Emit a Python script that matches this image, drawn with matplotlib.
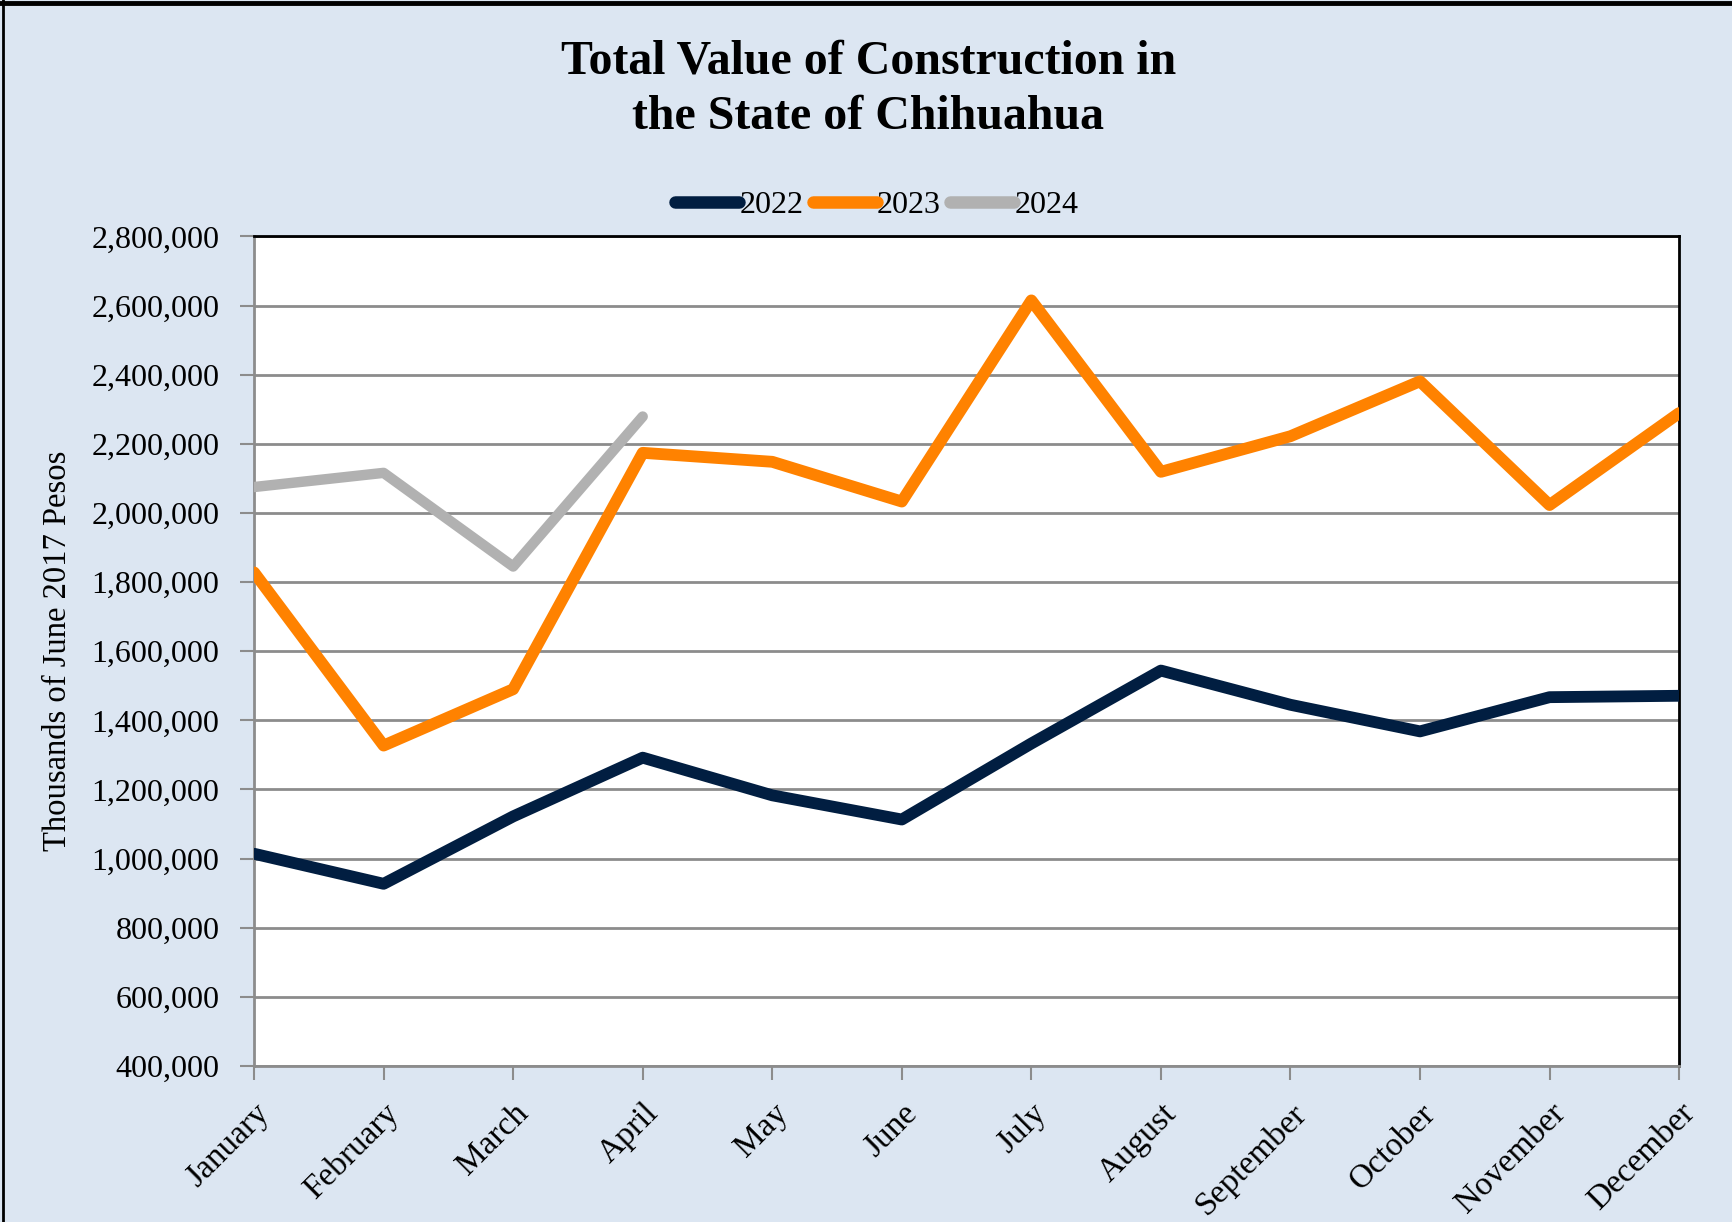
import matplotlib.pyplot as plt
from matplotlib.lines import Line2D
from matplotlib.ticker import FuncFormatter

months = ["January", "February", "March", "April", "May", "June", "July",
          "August", "September", "October", "November", "December"]

# thousands of June 2017 pesos
val_2022 = [1014000, 927000, 1122000, 1292000, 1183000, 1113000, 1333000,
            1544000, 1445000, 1368000, 1467000, 1471000]
val_2023 = [1828000, 1327000, 1490000, 2174000, 2148000, 2033000, 2615000,
            2119000, 2222000, 2381000, 2023000, 2289000]
val_2024 = [2075000, 2116000, 1845000, 2279000]

c22 = "#011E41"
c23 = "#FF8200"
c24 = "#B1B1B1"
bg = "#DCE6F2"

plt.rcParams['font.family'] = ['Liberation Serif', 'DejaVu Serif']

fig = plt.figure(figsize=(17.33, 12.22), dpi=100)
fig.patch.set_facecolor(bg)
ax = fig.add_axes([0.1466, 0.1277, 0.8223, 0.6788])
ax.set_facecolor("white")

x = range(len(months))
ax.plot(x, val_2022, color=c22, lw=8.5, solid_capstyle='round', solid_joinstyle='round', zorder=3)
ax.plot(x, val_2023, color=c23, lw=8.5, solid_capstyle='round', solid_joinstyle='round', zorder=3)
ax.plot(range(len(val_2024)), val_2024, color=c24, lw=7.5, solid_capstyle='round', solid_joinstyle='round', zorder=3)

ax.set_xlim(0, 11)
ax.set_ylim(400000, 2800000)
ax.set_yticks(range(400000, 2800001, 200000))
ax.yaxis.set_major_formatter(FuncFormatter(lambda v, p: f"{int(v):,}"))
ax.grid(axis='y', color='#8C8C8C', lw=2, zorder=1)
ax.set_axisbelow(True)

ax.set_xticks(list(x))
ax.set_xticklabels(months, rotation=45, ha='right', va='top', rotation_mode='anchor')
ax.tick_params(axis='x', length=10, width=1.5, color='#8C8C8C', labelsize=24, pad=13)
ax.tick_params(axis='y', length=10, width=1.5, color='#8C8C8C', labelsize=23, pad=15)

for s in ['left', 'bottom']:
    ax.spines[s].set_color('#8C8C8C')
    ax.spines[s].set_linewidth(2)
for s in ['top', 'right']:
    ax.spines[s].set_color('black')
    ax.spines[s].set_linewidth(2)

ax.set_ylabel("Thousands of June 2017 Pesos", fontsize=23.5, labelpad=13)

fig.text(0.501, 0.968, "Total Value of Construction in\nthe State of Chihuahua",
         ha='center', va='top', fontsize=34.5, fontweight='bold', linespacing=1.35)

handles = [Line2D([], [], color=c, lw=9, solid_capstyle='round') for c in (c22, c23, c24)]
fig.legend(handles, ["2022", "2023", "2024"], loc='center', bbox_to_anchor=(0.506, 0.832),
           ncol=3, frameon=False, fontsize=23, handlelength=2.0, handletextpad=0.0,
           columnspacing=0.3)

# outer frame edges
fig.add_artist(Line2D([0, 1], [0.9972, 0.9972], transform=fig.transFigure, color='black', lw=3.5))
fig.add_artist(Line2D([0.0015, 0.0015], [0, 1], transform=fig.transFigure, color='black', lw=2))

fig.savefig("out.png", dpi=100, facecolor=fig.get_facecolor())
